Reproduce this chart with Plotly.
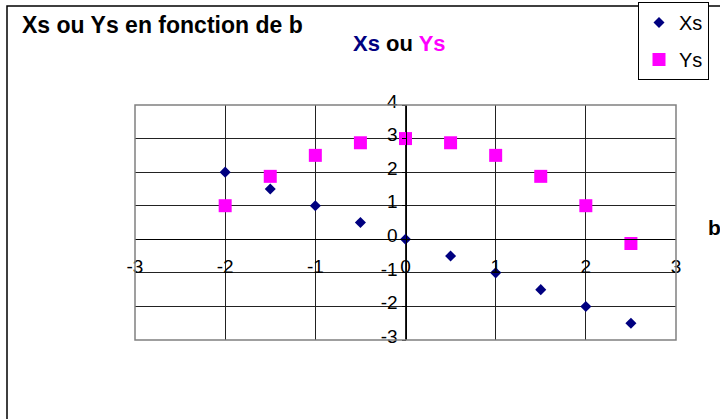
import plotly.graph_objects as go

b_values = [-2, -1.5, -1, -0.5, 0, 0.5, 1, 1.5, 2, 2.5]
xs_values = [2, 1.5, 1, 0.5, 0, -0.5, -1, -1.5, -2, -2.5]
ys_values = [1, 1.875, 2.5, 2.875, 3, 2.875, 2.5, 1.875, 1, -0.125]

x_tick_vals = [-3, -2, -1, 0, 1, 2, 3]
x_tick_text = ["-3", "-2", "-1", "0", "1", "2", "3"]
y_tick_vals = [-3, -2, -1, 0, 1, 2, 3, 4]
y_tick_text = ["-3", "-2", "-1", "0", "1", "2", "3", "4"]

FONT = "Liberation Sans, Arial, sans-serif"
W, H = 720, 419
L, R, T, B = 135, 676, 105, 340

def px_x(p):
    return (p - L) / (R - L)

def px_y(p):
    return (B - p) / (B - T)

fig = go.Figure()
fig.add_trace(go.Scatter(
    x=b_values, y=xs_values, mode="markers", name="Xs", legendgroup="a",
    marker=dict(symbol="diamond", size=8.5, color="#000080", line=dict(width=0)),
))
fig.add_trace(go.Scatter(
    x=b_values, y=ys_values, mode="markers", name="Ys", legendgroup="b",
    marker=dict(symbol="square", size=13, color="#FF00FF", line=dict(width=0)),
))

fig.update_layout(
    width=W, height=H,
    margin=dict(l=L, r=W - R, t=T, b=H - B, autoexpand=False),
    paper_bgcolor="white", plot_bgcolor="white",
    font=dict(family=FONT, color="black"),
    title=dict(text="<b>Xs ou Ys en fonction de b</b>", xref="container", yref="container",
               x=22 / W, xanchor="left", y=1 - 25 / H, yanchor="middle",
               font=dict(size=23, family=FONT, color="black")),
    xaxis=dict(range=[-3, 3], tickvals=x_tick_vals, ticktext=x_tick_text,
               showgrid=True, gridcolor="#222222", gridwidth=1, zeroline=False,
               showline=True, linecolor="black", linewidth=1,
               anchor="free", position=3 / 7, ticks="",
               ticklabelstandoff=10,
               tickfont=dict(size=19, family=FONT, color="black")),
    yaxis=dict(range=[-3, 4], tickvals=y_tick_vals, ticktext=y_tick_text,
               showgrid=True, gridcolor="#222222", gridwidth=1, zeroline=False,
               showline=True, linecolor="black", linewidth=1,
               anchor="free", position=0.5, ticks="outside", ticklen=4,
               tickcolor="black", ticklabelshift=-4,
               tickfont=dict(size=19, family=FONT, color="black")),
    legend=dict(xref="container", yref="container", x=638 / W, y=1 - 2 / H,
                xanchor="left", yanchor="top", bordercolor="black", borderwidth=1,
                bgcolor="white", font=dict(size=20, family=FONT, color="black"),
                tracegroupgap=8, itemwidth=30),
    showlegend=True,
)

# plot area border
fig.add_shape(type="rect", xref="paper", yref="paper", x0=0, x1=1, y0=0, y1=1,
              line=dict(color="#808080", width=1.5), fillcolor="rgba(0,0,0,0)")
# chart outer border
fig.add_shape(type="rect", xref="paper", yref="paper",
              x0=px_x(7), x1=px_x(730), y0=px_y(430), y1=px_y(6),
              line=dict(color="black", width=1.5), fillcolor="rgba(0,0,0,0)", layer="below")

fig.add_annotation(text="<b><span style='color:#000080'>Xs</span> ou <span style='color:#FF00FF'>Ys</span></b>",
                   xref="paper", yref="paper", x=px_x(399), y=px_y(44),
                   xanchor="center", yanchor="middle", showarrow=False,
                   font=dict(size=22, family=FONT, color="black"))
fig.add_annotation(text="<b>b</b>", xref="paper", yref="paper", x=px_x(706), y=px_y(227),
                   xanchor="left", yanchor="middle", showarrow=False,
                   font=dict(size=21, family=FONT, color="black"))

fig.write_html("out.html", config={"displayModeBar": False},
               post_script="document.body.style.margin='0';document.body.style.overflow='hidden';")
